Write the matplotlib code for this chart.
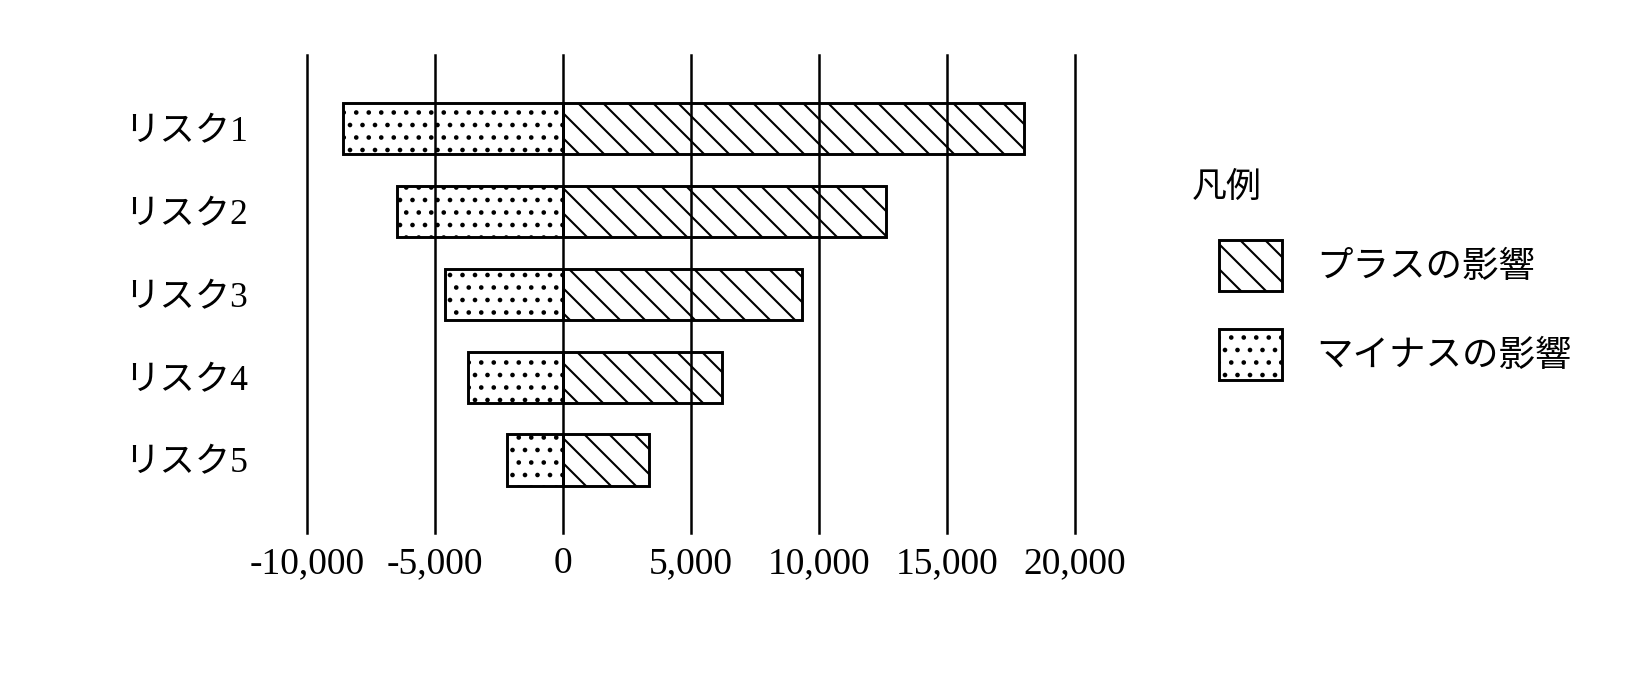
import matplotlib
matplotlib.use("Agg")
import matplotlib.pyplot as plt
import numpy as np

# data
risks = ['リスク1', 'リスク2', 'リスク3', 'リスク4', 'リスク5']
plus_impact = [18000, 12600, 9350, 6200, 3350]
minus_impact = [-8600, -6500, -4600, -3700, -2200]
xticks = [-10000, -5000, 0, 5000, 10000, 15000, 20000]
xticklabels = ['-10,000', '-5,000', '0', '5,000', '10,000', '15,000', '20,000']
legend_title = '凡例'
legend_labels = ['プラスの影響', 'マイナスの影響']

FONT = ['Liberation Serif', 'Noto Sans CJK JP', 'DejaVu Sans']
plt.rcParams['font.family'] = FONT
plt.rcParams['hatch.linewidth'] = 1.0
plt.rcParams['hatch.color'] = 'black'

W, H, DPI = 1636, 682, 150
fig = plt.figure(figsize=(W / DPI, H / DPI), dpi=DPI)
ax = fig.add_axes([307 / W, 1 - 533 / H, (1075 - 307) / W, (533 - 55) / H])

y = np.arange(len(risks))
bh = 0.62
p1 = ax.barh(y, plus_impact, height=bh, left=0, facecolor='white',
             edgecolor='black', linewidth=1.4, hatch='\\\\', zorder=2,
             label=legend_labels[0])
p2 = ax.barh(y, minus_impact, height=bh, left=0, facecolor='white',
             edgecolor='black', linewidth=1.4, hatch='..', zorder=2,
             label=legend_labels[1])

for xv in xticks:
    ax.axvline(xv, 0, 1, color='black', linewidth=1.2, clip_on=False, zorder=3)

ax.set_xlim(xticks[0], xticks[-1])
ax.set_ylim(len(risks) - 1 + 0.88, -0.89)
ax.set_xticks(xticks)
ax.set_xticklabels(xticklabels, fontsize=18)
ax.set_yticks(y)
ax.set_yticklabels(risks, fontsize=17)
ax.tick_params(axis='x', length=0, pad=6.5)
ax.tick_params(axis='y', length=0, pad=28.5)
for s in ax.spines.values():
    s.set_visible(False)

fig.text(1192 / W, 1 - 188 / H, legend_title, fontsize=16.8, va='center', ha='left')
fig.legend(handles=[p1, p2], labels=legend_labels, loc='upper left',
           bbox_to_anchor=(1219 / W, 1 - 240 / H), bbox_transform=fig.transFigure,
           frameon=False, borderpad=0, borderaxespad=0, fontsize=17.5,
           handlelength=1.73, handleheight=1.77, handletextpad=0.93,
           labelspacing=1.04)

fig.savefig('out.png', dpi=DPI)
